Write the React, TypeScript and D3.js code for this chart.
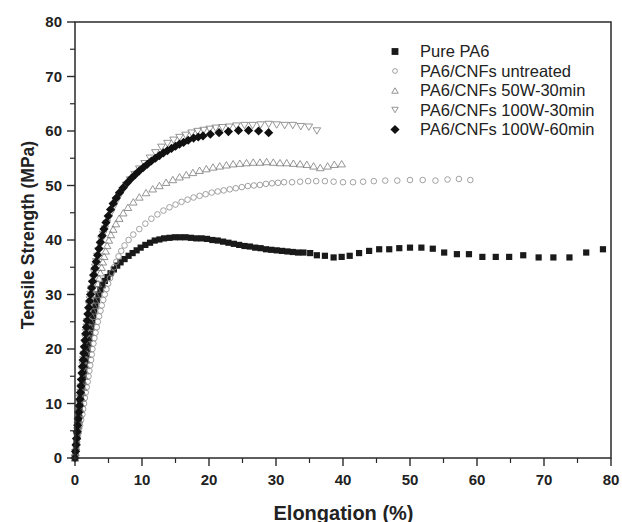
import React from "react";
import * as d3 from "d3";

const xTicks = [0, 10, 20, 30, 40, 50, 60, 70, 80];
const yTicks = [0, 10, 20, 30, 40, 50, 60, 70, 80];
const xTitle = "Elongation (%)";
const yTitle = "Tensile Strength (MPa)";
const seriesNames = [
  "Pure PA6",
  "PA6/CNFs untreated",
  "PA6/CNFs 50W-30min",
  "PA6/CNFs 100W-30min",
  "PA6/CNFs 100W-60min",
];

const purePA6: [number, number][] = [
  [0,0],[0.07,1],[0.15,2],[0.22,3],[0.3,4],[0.37,5],[0.45,6],[0.52,7],[0.6,8],[0.67,9],[0.75,10],[0.85,11],[0.95,12],[1.05,13],[1.15,14],[1.25,15],[1.35,16],[1.47,17],[1.6,18],[1.72,19],[1.85,20],[1.97,21],[2.1,22],[2.25,23],[2.4,24],[2.55,25],[2.7,26],[2.87,27],[3.05,28],[3.25,29],[3.5,30],[3.8,30.9],[4.1,31.7],[4.45,32.5],[4.85,33.2],[5.3,33.9],[5.8,34.6],[6.3,35.3],[6.8,35.9],[7.4,36.5],[8.0,37.1],[8.6,37.6],[9.2,38.1],[9.8,38.6],[10.5,39.1],[11.2,39.5],[11.9,39.9],[12.6,40.1],[13.3,40.3],[14.1,40.4],[14.9,40.5],[15.7,40.5],[16.5,40.5],[17.3,40.4],[18.1,40.3],[18.9,40.3],[19.7,40.2],[20.5,40.0],[21.3,39.9],[22.1,39.7],[22.9,39.5],[23.7,39.3],[24.5,39.1],[25.3,38.9],[26.1,38.8],[26.9,38.6],[27.7,38.5],[28.5,38.3],[29.3,38.2],[30.1,38.1],[30.9,38.0],[31.7,37.9],[32.5,37.8],[33.3,37.7],[34.1,37.7],[35.1,37.6],[36.1,37.2],[37.3,37.1],[38.6,36.8],[39.8,36.9],[41.0,37.1],[42.4,37.6],[43.9,38.0],[45.4,38.3],[46.9,38.3],[48.4,38.5],[50.0,38.6],[51.7,38.6],[53.4,38.4],[55.1,37.7],[57.0,37.4],[58.8,37.4],[60.8,36.9],[62.8,36.9],[64.8,36.9],[66.9,37.2],[69.2,36.8],[71.4,36.8],[73.8,36.8],[76.3,37.7],[78.8,38.3],
];

const untreated: [number, number][] = [
  [0,0],[0.1,1],[0.2,2],[0.32,3],[0.45,4],[0.6,5],[0.75,6],[0.92,7],[1.1,8],[1.22,9],[1.35,10],[1.47,11],[1.6,12],[1.75,13],[1.9,14],[2.02,15],[2.15,16],[2.27,17],[2.4,18],[2.5,19],[2.6,20],[2.75,21],[2.9,22],[3.07,23],[3.25,24],[3.42,25],[3.6,26],[3.8,27],[4.0,28],[4.22,29],[4.45,30],[4.7,31],[4.95,32],[5.22,33],[5.5,34],[5.82,35],[6.15,36],[6.5,37],[6.9,38],[7.4,39],[8.0,40],[8.7,41],[9.6,42],[10.5,43],[11.4,43.9],[12.3,44.7],[13.2,45.4],[14.1,46],[15.0,46.5],[15.9,47],[16.8,47.4],[17.7,47.8],[18.6,48.1],[19.5,48.4],[20.4,48.7],[21.3,48.9],[22.2,49.1],[23.1,49.3],[24.0,49.5],[24.9,49.7],[25.8,49.9],[26.7,50.0],[27.6,50.1],[28.5,50.3],[29.4,50.4],[30.3,50.5],[31.2,50.6],[32.4,50.6],[33.6,50.7],[34.8,50.8],[36.0,50.8],[37.3,50.8],[38.6,50.7],[40.0,50.6],[41.5,50.6],[43.0,50.7],[44.6,50.8],[46.3,50.9],[48.1,50.9],[50.0,51.0],[51.9,51.0],[53.8,50.9],[55.6,51.1],[57.3,51.2],[59.0,51.0],
];

const w50min30: [number, number][] = [
  [0,0],[0.08,1],[0.16,2],[0.24,3],[0.32,4],[0.4,5],[0.5,6],[0.6,7],[0.7,8],[0.8,9],[0.9,10],[1.0,11],[1.1,12],[1.2,13],[1.3,14],[1.4,15],[1.5,16],[1.6,17],[1.7,18],[1.8,19],[1.9,20],[2.0,21],[2.1,22],[2.2,23],[2.32,24],[2.44,25],[2.56,26],[2.7,27],[2.84,28],[2.98,29],[3.12,30],[3.27,31],[3.42,32],[3.6,33],[3.78,34],[3.96,35],[4.15,36],[4.35,37],[4.57,38],[4.8,39],[5.05,40],[5.35,41],[5.7,42],[6.1,43],[6.6,44],[7.2,45],[7.9,46],[8.7,47],[9.6,47.9],[10.6,48.7],[11.6,49.4],[12.6,50.0],[13.6,50.6],[14.6,51.1],[15.6,51.6],[16.6,52.0],[17.6,52.4],[18.6,52.8],[19.6,53.1],[20.6,53.4],[21.6,53.6],[22.6,53.8],[23.6,54.0],[24.6,54.1],[25.6,54.2],[26.6,54.3],[27.6,54.3],[28.6,54.4],[29.6,54.3],[30.6,54.2],[31.6,54.2],[32.6,54.1],[33.6,54.0],[34.6,53.9],[35.6,53.6],[36.6,53.3],[37.7,53.6],[38.7,53.9],[39.8,54.0],
];

const w100min30: [number, number][] = [
  [0,0],[0.07,1],[0.14,2],[0.21,3],[0.28,4],[0.35,5],[0.42,6],[0.49,7],[0.56,8],[0.63,9],[0.7,10],[0.77,11],[0.84,12],[0.91,13],[0.98,14],[1.05,15],[1.12,16],[1.19,17],[1.26,18],[1.34,19],[1.42,20],[1.5,21],[1.58,22],[1.66,23],[1.75,24],[1.84,25],[1.93,26],[2.03,27],[2.13,28],[2.24,29],[2.35,30],[2.47,31],[2.6,32],[2.73,33],[2.87,34],[3.02,35],[3.18,36],[3.35,37],[3.53,38],[3.73,39],[3.95,40],[4.2,41],[4.45,42],[4.75,43],[5.05,44],[5.4,45],[5.75,46],[6.15,47],[6.6,48],[7.1,49],[7.65,50],[8.25,51],[8.9,52],[9.6,53],[10.4,54],[11.2,55],[12.0,56],[12.9,57],[13.8,57.7],[14.7,58.3],[15.6,58.8],[16.5,59.2],[17.4,59.6],[18.3,59.9],[19.2,60.1],[20.1,60.3],[21.0,60.5],[22.0,60.6],[23.0,60.7],[24.1,60.9],[25.3,61.0],[26.5,61.0],[27.7,61.1],[28.9,61.2],[30.1,61.1],[31.3,61.0],[32.5,61.0],[33.7,60.8],[34.9,60.7],[36.1,60.0],
];

const w100min60: [number, number][] = [
  [0,0],[0.08,1.2],[0.16,2.4],[0.24,3.6],[0.32,4.8],[0.4,6],[0.48,7.2],[0.56,8.4],[0.64,9.6],[0.72,10.8],[0.8,12],[0.88,13.2],[0.96,14.4],[1.04,15.6],[1.12,16.8],[1.21,18],[1.3,19.2],[1.4,20.4],[1.5,21.6],[1.6,22.8],[1.7,24],[1.81,25.2],[1.93,26.4],[2.05,27.6],[2.18,28.8],[2.32,30],[2.47,31.2],[2.63,32.4],[2.8,33.6],[2.98,34.8],[3.17,36],[3.37,37.2],[3.58,38.4],[3.8,39.6],[4.05,40.8],[4.32,42],[4.62,43.2],[4.95,44.4],[5.3,45.6],[5.7,46.7],[6.15,47.7],[6.65,48.7],[7.2,49.6],[7.8,50.5],[8.4,51.3],[9.0,52.0],[9.6,52.7],[10.2,53.3],[10.8,53.9],[11.4,54.5],[12.0,55.0],[12.6,55.5],[13.2,56.0],[13.8,56.4],[14.4,56.8],[15.0,57.2],[15.6,57.6],[16.2,57.9],[16.9,58.3],[17.7,58.7],[18.4,58.9],[19.1,59.1],[20.2,59.4],[21.5,59.7],[22.9,59.9],[24.4,60.1],[25.9,60.1],[27.4,60.0],[28.9,59.7],
];

const W = 622, H = 522;
const L = 75, R = 611, T = 22, B = 458;
const FONT = "'Liberation Sans', Arial, Helvetica, sans-serif";

type Kind = "square" | "circle" | "up" | "down" | "diamond";

function Marker({ kind, x, y, s = 1 }: { kind: Kind; x: number; y: number; s?: number }) {
  if (kind === "square") {
    const h = 3.1 * s;
    return <rect x={x - h} y={y - h} width={2 * h} height={2 * h} fill="#1a1a1a" />;
  }
  if (kind === "diamond") {
    const h = 4.6 * s;
    return <path d={`M${x},${y - h}L${x + h},${y}L${x},${y + h}L${x - h},${y}Z`} fill="#111" />;
  }
  if (kind === "circle") {
    return <circle cx={x} cy={y} r={2.8 * s} fill="none" stroke="#8a8a8a" strokeWidth={0.8} />;
  }
  const w = 3.8 * s, hh = 3.2 * s;
  if (kind === "up") {
    return <path d={`M${x},${y - hh}L${x + w},${y + hh}L${x - w},${y + hh}Z`} fill="none" stroke="#7a7a7a" strokeWidth={0.8} />;
  }
  return <path d={`M${x},${y + hh}L${x + w},${y - hh}L${x - w},${y - hh}Z`} fill="none" stroke="#7a7a7a" strokeWidth={0.8} />;
}

export default function App() {
  const x = d3.scaleLinear().domain([0, 80]).range([L, R]);
  const y = d3.scaleLinear().domain([0, 80]).range([B, T]);
  const minorX = d3.range(5, 80, 10);
  const minorY = d3.range(5, 80, 10);

  const series: { data: [number, number][]; kind: Kind }[] = [
    { data: purePA6, kind: "square" },
    { data: untreated, kind: "circle" },
    { data: w50min30, kind: "up" },
    { data: w100min30, kind: "down" },
    { data: w100min60, kind: "diamond" },
  ];
  const legendY = [51.5, 71, 90.5, 110, 129.5];
  const legendScale = [1.1, 0.85, 0.85, 0.85, 1.0];

  return (
    <div style={{ position: "absolute", left: 0, top: 0 }}>
      <svg width={W} height={H} style={{ display: "block", background: "#fff" }}>
        {series.map((s, si) => (
          <g key={si}>
            {s.data.map((d, i) => (
              <Marker key={i} kind={s.kind} x={x(d[0])} y={y(d[1])} />
            ))}
          </g>
        ))}
        <rect x={L} y={T} width={R - L} height={B - T} fill="none" stroke="#2a2a2a" strokeWidth={1.5} />
        {yTicks.map((t) => (
          <g key={"y" + t}>
            <line x1={L - 8} x2={L} y1={y(t)} y2={y(t)} stroke="#2a2a2a" strokeWidth={1.4} />
            <text x={62} y={y(t)} dy="0.36em" textAnchor="end" fontFamily={FONT} fontWeight="bold" fontSize={15} fill="#222">
              {t}
            </text>
          </g>
        ))}
        {minorY.map((t) => (
          <line key={"my" + t} x1={L - 5} x2={L} y1={y(t)} y2={y(t)} stroke="#2a2a2a" strokeWidth={1.2} />
        ))}
        {xTicks.map((t) => (
          <g key={"x" + t}>
            <line x1={x(t)} x2={x(t)} y1={B} y2={B + 8} stroke="#2a2a2a" strokeWidth={1.4} />
            <text x={x(t)} y={484.5} textAnchor="middle" fontFamily={FONT} fontWeight="bold" fontSize={15} fill="#222">
              {t}
            </text>
          </g>
        ))}
        {minorX.map((t) => (
          <line key={"mx" + t} x1={x(t)} x2={x(t)} y1={B} y2={B + 5} stroke="#2a2a2a" strokeWidth={1.2} />
        ))}
        <text x={343.5} y={519.5} textAnchor="middle" fontFamily={FONT} fontWeight="bold" fontSize={20} fill="#222">
          {xTitle}
        </text>
        <text
          transform={`translate(27.5,235) rotate(-90)`}
          textAnchor="middle"
          dy="0.36em"
          fontFamily={FONT}
          fontWeight="bold"
          fontSize={17.5}
          fill="#222"
        >
          {yTitle}
        </text>
        {seriesNames.map((n, i) => (
          <g key={"lg" + i}>
            <Marker kind={series[i].kind} x={395} y={legendY[i]} s={legendScale[i]} />
            <text x={420} y={legendY[i]} dy="0.36em" fontFamily={FONT} fontSize={16.5} fill="#222">
              {n}
            </text>
          </g>
        ))}
      </svg>
    </div>
  );
}
